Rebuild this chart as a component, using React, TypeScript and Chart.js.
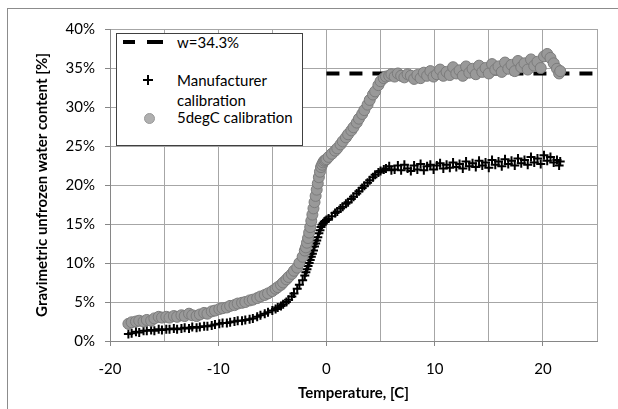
import { useEffect, useRef } from 'react';
import { Chart, registerables } from 'chart.js';

Chart.register(...registerables);

// Temperature [C] of each sample (shared by both calibrations)
const temperature = [
  -18.3, -18.0, -17.6, -17.3, -16.9, -16.6, -16.2, -15.9, -15.5, -15.2,
  -14.8, -14.5, -14.1, -13.8, -13.4, -13.1, -12.7, -12.4, -12.0, -11.7,
  -11.3, -11.0, -10.6, -10.3, -9.9, -9.6, -9.2, -8.9, -8.5, -8.2,
  -7.8, -7.5, -7.1, -6.8, -6.4, -6.1, -5.7, -5.4, -5.0, -4.7,
  -4.5, -4.2, -4.0, -3.7, -3.5, -3.2, -3.0, -2.7, -2.5, -2.2,
  -2.0, -1.9, -1.8, -1.7, -1.6, -1.5, -1.4, -1.3, -1.2, -1.1,
  -1.0, -0.9, -0.8, -0.7, -0.6, -0.5, -0.4, -0.3, -0.2, -0.1,
  0.0, 0.2, 0.5, 0.8, 1.0, 1.3, 1.5, 1.8, 2.0, 2.3,
  2.5, 2.8, 3.0, 3.3, 3.5, 3.8, 4.0, 4.3, 4.5, 4.8,
  5.0, 5.3, 5.5, 5.8, 6.0, 6.3, 6.6, 6.9, 7.2, 7.5,
  7.8, 8.1, 8.4, 8.7, 9.0, 9.3, 9.6, 9.9, 10.2, 10.5,
  10.8, 11.1, 11.4, 11.7, 12.0, 12.3, 12.6, 12.9, 13.2, 13.5,
  13.8, 14.1, 14.4, 14.7, 15.0, 15.3, 15.6, 15.9, 16.2, 16.5,
  16.8, 17.1, 17.4, 17.7, 18.0, 18.3, 18.6, 18.9, 19.2, 19.5,
  19.8, 20.1, 20.4, 20.7, 21.0, 21.3, 21.5, 21.6,
];

// Gravimetric unfrozen water content [%], manufacturer calibration
const manufacturerWater = [
  0.9, 1.0, 1.2, 1.1, 1.3, 1.3, 1.4, 1.3, 1.5, 1.4,
  1.5, 1.5, 1.6, 1.5, 1.6, 1.7, 1.6, 1.8, 1.7, 1.8,
  1.9, 1.9, 2.0, 2.1, 2.2, 2.3, 2.3, 2.4, 2.5, 2.6,
  2.6, 2.7, 2.8, 2.9, 3.1, 3.3, 3.5, 3.7, 3.9, 4.1,
  4.3, 4.5, 4.7, 5.0, 5.3, 5.7, 6.1, 6.7, 7.2, 7.8,
  8.4, 8.8, 9.2, 9.6, 10.0, 10.4, 10.8, 11.2, 11.6, 12.1,
  12.5, 12.9, 13.3, 13.8, 14.2, 14.6, 14.9, 15.1, 15.3, 15.4,
  15.5, 15.7, 16.0, 16.4, 16.6, 17.0, 17.2, 17.6, 17.8, 18.2,
  18.5, 18.9, 19.2, 19.6, 19.9, 20.3, 20.6, 21.0, 21.3, 21.6,
  21.8, 22.0, 22.1, 22.4, 21.9, 22.0, 22.5, 21.9, 22.6, 22.1,
  21.8, 22.5, 22.0, 22.7, 21.9, 22.4, 22.6, 22.0, 22.5, 22.8,
  22.1, 22.6, 22.2, 22.9, 22.3, 22.7, 22.1, 23.0, 22.4, 22.8,
  22.3, 23.1, 22.5, 22.9, 22.2, 23.2, 22.6, 23.0, 22.4, 23.3,
  22.7, 23.1, 22.5, 23.4, 22.8, 23.2, 22.6, 23.6, 22.9, 23.4,
  22.7, 23.8, 23.1, 23.6, 22.9, 23.2, 22.5, 23.0,
];

// Gravimetric unfrozen water content [%], 5degC calibration
const calibratedWater = [
  2.2, 2.4, 2.5, 2.6, 2.5, 2.7, 2.6, 2.9, 3.1, 3.0,
  3.1, 3.0, 3.2, 3.1, 3.3, 3.2, 3.5, 3.3, 3.2, 3.4,
  3.6, 3.5, 3.8, 3.9, 4.1, 4.2, 4.3, 4.5, 4.6, 4.8,
  4.9, 5.0, 5.2, 5.3, 5.5, 5.7, 5.9, 6.1, 6.4, 6.7,
  6.9, 7.2, 7.5, 7.9, 8.2, 8.6, 9.0, 9.4, 10.0, 10.8,
  11.6, 12.0, 12.6, 13.2, 13.9, 14.6, 15.4, 16.2, 17.0, 17.8,
  18.6, 19.4, 20.2, 21.0, 21.7, 22.3, 22.6, 22.9, 23.1, 23.2,
  23.3, 23.6, 24.0, 24.4, 24.7, 25.2, 25.6, 26.1, 26.5, 27.0,
  27.4, 28.0, 28.5, 29.1, 29.6, 30.3, 30.9, 31.6, 32.0, 32.8,
  33.3, 33.7, 33.9, 34.0, 34.2, 33.9, 34.3, 34.0, 33.8, 34.2,
  34.0, 33.6, 34.1, 33.7, 34.4, 34.0, 34.6, 33.9, 34.2, 34.8,
  34.0, 34.5, 34.1, 35.1, 34.3, 34.7, 34.0, 35.2, 34.4, 34.9,
  34.2, 35.3, 34.5, 35.0, 34.3, 35.5, 34.8, 35.2, 34.5, 35.7,
  34.9, 35.4, 34.6, 35.9, 35.1, 35.6, 34.8, 36.1, 35.3, 35.8,
  35.0, 36.5, 36.8, 36.3, 35.6, 34.9, 34.3, 34.6,
];

// Reference level w = 34.3%
const referenceTemperature = [0, 25];
const referenceWater = [34.3, 34.3];

const legendLabels = ['w=34.3%', 'Manufacturer', 'calibration', '5degC calibration'];
const xAxisTitle = 'Temperature, [C]';
const yAxisTitle = 'Gravimetric unfrozen water content [%]';

const FONT = 'Lato, "Open Sans", sans-serif';
const GRID = '#a6a6a6';
const AXIS = '#868686';

export default function App() {
  const canvasRef = useRef<HTMLCanvasElement | null>(null);

  useEffect(() => {
    document.body.style.margin = '0';
    const canvas = canvasRef.current;
    if (!canvas) return;

    const manufacturerPoints = temperature.map((t, i) => ({ x: t, y: manufacturerWater[i] }));
    const calibratedPoints = temperature.map((t, i) => ({ x: t, y: calibratedWater[i] }));
    const referencePoints = referenceTemperature.map((t, i) => ({ x: t, y: referenceWater[i] }));

    const chart = new Chart(canvas, {
      type: 'scatter',
      data: {
        datasets: [
          {
            label: '5degC calibration',
            data: calibratedPoints,
            pointStyle: 'circle',
            pointRadius: 5.5,
            backgroundColor: '#999999',
            borderColor: '#7c7c7c',
            borderWidth: 1,
            order: 1,
          },
          {
            label: 'Manufacturer calibration',
            data: manufacturerPoints,
            pointStyle: 'cross',
            pointRadius: 4.5,
            borderColor: '#000',
            borderWidth: 2,
            order: 2,
          },
          {
            label: 'w=34.3%',
            data: referencePoints,
            showLine: true,
            pointRadius: 0,
            borderColor: '#000',
            borderWidth: 4,
            borderDash: [13, 10],
            order: 3,
          },
        ],
      },
      options: {
        responsive: false,
        animation: false,
        events: [],
        layout: { padding: { left: 0, top: 29, right: 21, bottom: 0 } },
        plugins: { legend: { display: false }, tooltip: { enabled: false } },
        scales: {
          x: {
            type: 'linear',
            min: -20,
            max: 25,
            afterFit: (s: any) => { s.height = 68; },
            ticks: {
              stepSize: 5,
              autoSkip: false,
              maxRotation: 0,
              padding: 14,
              color: '#000',
              font: { family: FONT, size: 15 },
              callback: (v: any) => (Number(v) % 10 === 0 ? String(v) : ''),
            },
            grid: {
              color: GRID,
              tickLength: 5,
              tickColor: (ctx: any) => (ctx.tick && ctx.tick.value % 10 === 0 && ctx.tick.value < 25 ? AXIS : 'rgba(0,0,0,0)'),
            },
            border: { color: AXIS },
            title: {
              display: true,
              text: xAxisTitle,
              color: '#000',
              font: { family: FONT, size: 15, weight: 'bold' },
              padding: { top: 0, bottom: 7 },
            },
          },
          y: {
            type: 'linear',
            min: 0,
            max: 40,
            afterFit: (s: any) => { s.width = 110; },
            ticks: {
              stepSize: 5,
              padding: 10,
              color: '#000',
              font: { family: FONT, size: 15 },
              callback: (v: any) => `${v}%`,
            },
            grid: { color: GRID, tickLength: 5, tickColor: AXIS },
            border: { color: AXIS },
            title: {
              display: true,
              text: yAxisTitle,
              color: '#000',
              font: { family: FONT, size: 15, weight: 'bold' },
              padding: { top: 33, bottom: 0 },
            },
          },
        },
      },
    });

    return () => chart.destroy();
  }, []);

  const text: any = {
    position: 'absolute',
    left: 60,
    height: 18,
    lineHeight: '18px',
    fontFamily: FONT,
    fontSize: 15,
    color: '#000',
    whiteSpace: 'nowrap',
  };

  return (
    <div style={{ position: 'relative', width: 618, height: 409, overflow: 'hidden', background: '#fff' }}>
      <div
        style={{
          position: 'absolute', left: 7, top: 8, width: 700, height: 500,
          border: '1.5px solid #8c8c8c',
        }}
      />
      <canvas ref={canvasRef} width={618} height={409} style={{ position: 'absolute', left: 0, top: 0 }} />
      <div
        style={{
          position: 'absolute', left: 116, top: 33, width: 187, height: 113,
          boxSizing: 'border-box', border: '1px solid #404040', background: '#fff',
        }}
      >
        <span style={{ position: 'absolute', left: 6, top: 6, width: 12, height: 4, background: '#000' }} />
        <span style={{ position: 'absolute', left: 30, top: 6, width: 16, height: 4, background: '#000' }} />
        <div style={{ ...text, top: -1 }}>{legendLabels[0]}</div>

        <span style={{ position: 'absolute', left: 26, top: 45.25, width: 10, height: 1.5, background: '#000' }} />
        <span style={{ position: 'absolute', left: 30.25, top: 41, width: 1.5, height: 10, background: '#000' }} />
        <div style={{ ...text, top: 37 }}>{legendLabels[1]}</div>
        <div style={{ ...text, top: 57 }}>{legendLabels[2]}</div>

        <span
          style={{
            position: 'absolute', left: 26.5, top: 78.5, width: 11, height: 11, boxSizing: 'border-box',
            borderRadius: '50%', background: '#b0b0b0', border: '1px solid #999',
          }}
        />
        <div style={{ ...text, top: 74 }}>{legendLabels[3]}</div>
      </div>
    </div>
  );
}
